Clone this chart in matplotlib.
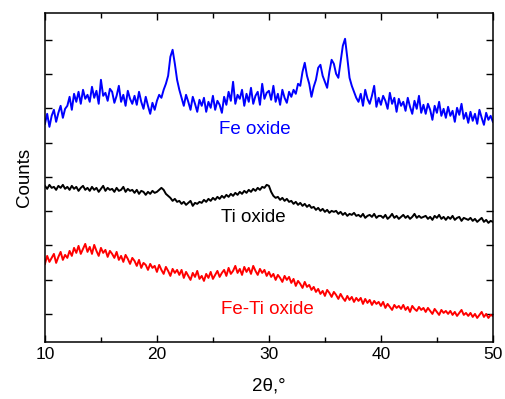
import matplotlib.pyplot as plt
import numpy as np
from matplotlib.ticker import MultipleLocator

plt.rcParams['font.family'] = ['Liberation Sans', 'DejaVu Sans']

# 2theta grid, 0.2 deg step
two_theta = np.round(np.arange(10, 50.001, 0.2), 1)

# counts (arbitrary units, offset curves)
fe_oxide = [
    218, 228, 215, 226, 232, 220, 229, 236, 224, 233,
    236, 245, 232, 248, 240, 250, 238, 252, 243, 247,
    240, 255, 244, 251, 238, 262, 246, 249, 241, 253,
    250, 239, 246, 256, 240, 247, 236, 251, 243, 238,
    246, 237, 250, 240, 233, 245, 236, 228, 239, 232,
    241, 247, 244, 252, 258, 266, 285, 292, 278, 262,
    252, 244, 236, 247, 240, 232, 245, 238, 230, 242,
    236, 244, 230, 240, 234, 246, 232, 241, 237, 229,
    245, 237, 250, 241, 260, 238, 247, 243, 252, 236,
    248, 240, 254, 238, 246, 250, 237, 258, 243, 249,
    251, 242, 256, 240, 248, 237, 252, 244, 239, 250,
    245, 252, 248, 258, 256, 270, 279, 266, 258, 245,
    255, 262, 274, 277, 266, 260, 254, 270, 282, 278,
    268, 264, 280, 296, 303, 284, 264, 256, 250, 244,
    240, 248, 236, 252, 243, 238, 246, 256, 235, 244,
    237, 246, 241, 233, 249, 238, 244, 230, 243, 236,
    240, 231, 244, 235, 228, 241, 233, 246, 229, 237,
    228, 238, 232, 222, 236, 229, 240, 226, 233, 224,
    235, 226, 231, 220, 234, 227, 238, 223, 229, 219,
    230, 221, 228, 218, 232, 224, 217, 229, 222, 226,
    220,
]

ti_oxide = [
    156, 153, 157, 154, 155, 152, 156, 154, 157, 153,
    155, 152, 156, 153, 155, 151, 154, 156, 152, 154,
    151, 155, 152, 154, 150, 153, 156, 151, 154, 152,
    153, 150, 154, 151, 152, 155, 150, 153, 151, 152,
    149, 152, 148, 151, 150, 147, 150, 148, 151, 149,
    150, 152, 154, 152, 148, 146, 144, 141, 143, 140,
    141, 138, 140, 137, 139, 141, 136, 139, 138, 140,
    139, 142, 140, 143, 141, 144, 142, 145, 143, 146,
    144, 147, 145, 148, 146, 149, 147, 150, 148, 151,
    149, 152, 150, 153, 151, 154, 152, 155, 154, 157,
    156, 150, 146, 144, 145, 142, 144, 141, 143, 140,
    141, 138, 140, 137, 139, 136, 138, 135, 137, 134,
    135, 132, 134, 131, 133, 130, 132, 129, 131, 130,
    131, 128, 130, 127, 129, 126, 128, 127, 129, 126,
    127, 125, 128, 124, 126, 127, 125, 128, 124, 126,
    126, 124, 127, 123, 125, 128, 124, 126, 123, 125,
    127, 124, 126, 123, 125, 128, 124, 126, 124, 125,
    126, 123, 125, 122, 126, 124, 127, 123, 125, 122,
    125, 123, 126, 122, 124, 125, 121, 124, 123, 122,
    124, 121, 123, 120, 122, 124, 120, 122, 119, 121,
    120,
]

fe_ti_oxide = [
    78, 86, 80, 84, 88, 79, 85, 90, 82, 87,
    84, 91, 86, 94, 89, 96, 88, 93, 98, 90,
    95, 88, 97, 91, 86, 94, 89, 92, 85, 91,
    88, 84, 90, 82, 86, 80, 87, 83, 78, 84,
    81, 76, 82, 74, 79, 77, 72, 78, 74, 76,
    70, 77, 72, 68, 75, 71, 66, 73, 69, 72,
    67, 72, 64, 70, 66, 62, 69, 65, 71, 63,
    66, 61, 68, 64, 70, 63, 67, 71, 65, 69,
    72, 66, 74, 68, 71, 76, 69, 73, 67, 75,
    70, 74, 68, 76, 71, 67, 73, 69, 72, 66,
    70, 65, 68, 62, 67, 64, 60, 66, 62, 65,
    59, 63, 56, 61, 58, 54, 60, 55, 57, 52,
    55, 50, 53, 48, 51, 46, 52, 49, 45, 50,
    47, 43, 48, 44, 41, 46, 42, 45, 40, 44,
    41, 44, 38, 43, 39, 42, 37, 41, 38, 40,
    36, 40, 34, 38, 35, 32, 37, 34, 36, 33,
    37, 32, 35, 30, 36, 33, 31, 35, 32, 34,
    30, 34, 31, 28, 33, 30, 27, 32, 29, 31,
    28, 31, 27, 30, 26, 29, 32, 27, 29, 26,
    29, 25, 28, 24, 27, 30, 25, 28, 24, 27,
    26,
]

labels = ['Fe oxide', 'Ti oxide', 'Fe-Ti oxide']
colors = ['#0000ff', '#000000', '#ff0000']
label_pos = [(28.75, 212), (28.6, 124), (29.9, 32)]

fig = plt.figure(figsize=(5.05, 3.99), dpi=100)
ax = fig.add_axes([0.089, 0.143, 0.887, 0.825])

for series, c in zip([fe_oxide, ti_oxide, fe_ti_oxide], colors):
    ax.plot(two_theta, series, color=c, lw=1.4)

for text, c, (tx, ty) in zip(labels, colors, label_pos):
    ax.text(tx, ty, text, color=c, fontsize=13.5, ha='center', va='center')

ax.set_xlim(10, 50)
ax.set_ylim(0, 329)
ax.xaxis.set_major_locator(MultipleLocator(10))
ax.xaxis.set_minor_locator(MultipleLocator(5))
ax.set_yticks(np.arange(28, 310, 34.25))
ax.set_yticklabels([])
ax.tick_params(which='both', direction='in', top=True, right=True,
               labelsize=12.5, width=1)
ax.tick_params(which='major', length=5)
ax.tick_params(which='minor', length=3.5)
for s in ax.spines.values():
    s.set_linewidth(1.1)

ax.set_xlabel('2θ,°', fontsize=13.5, labelpad=11)
ax.set_ylabel('Counts', fontsize=13.5, labelpad=5)

fig.savefig('out.png', dpi=100)
